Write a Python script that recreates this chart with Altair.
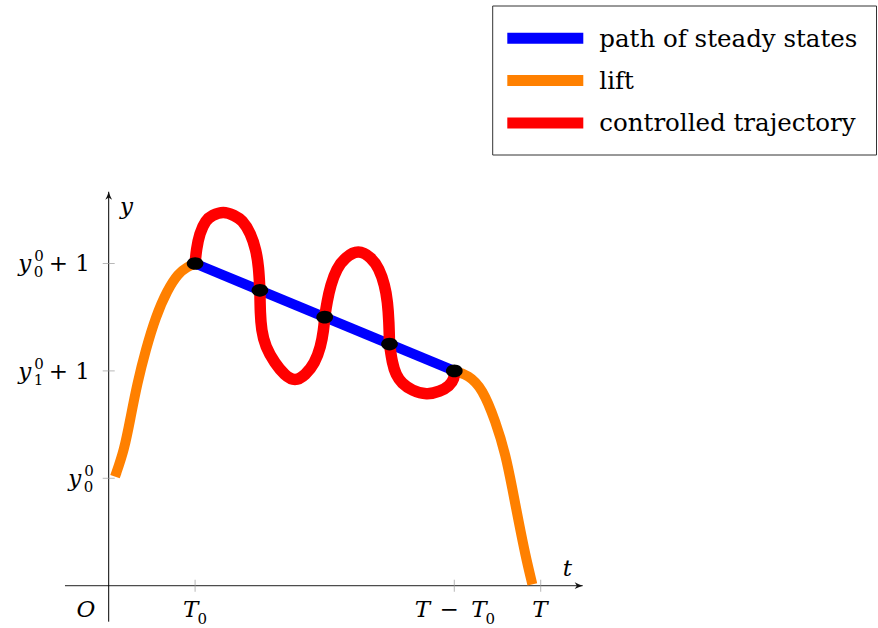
import altair as alt
import pandas as pd

# ---------------- values ----------------
# time and state ticks (T0 = 1, T - T0 = 4, T = 5)
x_ticks = [1, 4, 5]
y_ticks = [1, 2, 3]

# axis extents (arrow tips at the upper ends)
t_axis = [-0.506, 5.486]
y_axis = [-0.335, 3.668]

# path of steady states
steady_t = [1.0, 4.0]
steady_y = [3.0, 2.0]

# switching points on the steady-state path
switch_t = [1.0, 1.75, 2.5, 3.25, 4.0]
switch_y = [3.0, 2.75, 2.5, 2.25, 2.0]

# lift from y0^0 up to the first steady state
lift_in_t = [0.073, 0.181, 0.255, 0.331, 0.428, 0.544, 0.678, 0.806, 0.906, 1.0]
lift_in_y = [1.015, 1.264, 1.574, 1.885, 2.195, 2.505, 2.753, 2.909, 2.967, 3.0]

# lift from the last steady state down to zero at T
lift_out_t = [4.0, 4.162, 4.324, 4.479, 4.595, 4.671, 4.745, 4.822, 4.903]
lift_out_y = [2.0, 1.962, 1.838, 1.527, 1.217, 0.907, 0.596, 0.286, 0.013]

# controlled trajectory, one arc between each pair of switching points
arc1_t = [1.0, 1.014, 1.051, 1.123, 1.196, 1.326, 1.456, 1.546, 1.644, 1.705, 1.736, 1.75]
arc1_y = [3.0, 3.126, 3.281, 3.405, 3.447, 3.49, 3.447, 3.405, 3.281, 3.126, 2.970, 2.75]

arc2_t = [1.75, 1.754, 1.768, 1.812, 1.924, 2.035, 2.156, 2.277, 2.385, 2.454, 2.488, 2.5]
arc2_y = [2.75, 2.536, 2.381, 2.225, 2.071, 1.961, 1.90, 1.961, 2.071, 2.225, 2.381, 2.5]

arc3_t = [2.5, 2.527, 2.569, 2.639, 2.735, 2.889, 3.042, 3.128, 3.195, 3.228, 3.244, 3.25]
arc3_y = [2.5, 2.644, 2.800, 2.955, 3.055, 3.133, 3.055, 2.955, 2.800, 2.644, 2.455, 2.25]

arc4_t = [3.25, 3.282, 3.325, 3.391, 3.510, 3.681, 3.834, 3.944, 4.002, 4.0]
arc4_y = [2.25, 2.071, 1.962, 1.885, 1.817, 1.775, 1.808, 1.859, 1.929, 2.0]

legend_labels = ["path of steady states", "lift", "controlled trajectory"]

# ---------------- styling ----------------
FONT = "DejaVu Serif"
BLUE, ORANGE, RED = "#0000ff", "#ff8000", "#ff0000"
legend_colors = [BLUE, ORANGE, RED]

X = alt.Scale(domain=[-1.2581, 8.9039], nice=False, zero=False)
Y = alt.Scale(domain=[-0.3939, 5.4534], nice=False, zero=False)
xe = alt.X("t:Q", scale=X, axis=None)
ye = alt.Y("y:Q", scale=Y, axis=None)


def curve(ts, ys, seg):
    return pd.DataFrame({"t": ts, "y": ys, "i": range(len(ts)), "seg": seg})


lift_df = pd.concat([curve(lift_in_t, lift_in_y, "in"),
                     curve(lift_out_t, lift_out_y, "out")])
ctrl_df = pd.concat([curve(arc1_t, arc1_y, "a1"), curve(arc2_t, arc2_y, "a2"),
                     curve(arc3_t, arc3_y, "a3"), curve(arc4_t, arc4_y, "a4")])

lift = alt.Chart(lift_df).mark_line(
    color=ORANGE, strokeWidth=10, strokeCap="butt", interpolate="basis"
).encode(x=xe, y=ye, order="i:Q", detail="seg:N")

steady = alt.Chart(curve(steady_t, steady_y, "s")).mark_line(
    color=BLUE, strokeWidth=10, strokeCap="butt"
).encode(x=xe, y=ye, order="i:Q")

ctrl = alt.Chart(ctrl_df).mark_line(
    color=RED, strokeWidth=11.5, strokeCap="butt", interpolate="basis"
).encode(x=xe, y=ye, order="i:Q", detail="seg:N")

ELLIPSE = "M-1,0A1,0.76,0,1,1,1,0A1,0.76,0,1,1,-1,0Z"
dots = alt.Chart(pd.DataFrame({"t": switch_t, "y": switch_y})).mark_point(
    shape=ELLIPSE, size=279, filled=True, color="black", opacity=1, strokeWidth=0
).encode(x=xe, y=ye)

# axes
x_line = alt.Chart(pd.DataFrame({"t": [t_axis[0]], "t2": [t_axis[1]], "y": [0]})).mark_rule(
    color="#4d4d4d", strokeWidth=1.3
).encode(x=xe, x2="t2:Q", y=ye)
y_line = alt.Chart(pd.DataFrame({"t": [0], "y": [y_axis[0]], "y2": [y_axis[1]]})).mark_rule(
    color="black", strokeWidth=1
).encode(x=xe, y=ye, y2="y2:Q")

ARROW = "M0,0Q-1,-0.3,-2,-0.85L-1.45,0L-2,0.85Q-1,0.3,0,0Z"
x_arrow = alt.Chart(pd.DataFrame({"t": [t_axis[1]], "y": [0]})).mark_point(
    shape=ARROW, size=64, filled=True, color="#111", opacity=1, strokeWidth=0
).encode(x=xe, y=ye)
y_arrow = alt.Chart(pd.DataFrame({"t": [0], "y": [y_axis[1]]})).mark_point(
    shape=ARROW, size=64, filled=True, color="#111", opacity=1, strokeWidth=0, angle=270
).encode(x=xe, y=ye)

x_tick_marks = alt.Chart(pd.DataFrame({"t": x_ticks, "y": [0] * len(x_ticks)})).mark_tick(
    orient="vertical", size=12, thickness=1, color="#9a9a9a"
).encode(x=xe, y=ye)
y_tick_marks = alt.Chart(pd.DataFrame({"t": [0] * len(y_ticks), "y": y_ticks})).mark_tick(
    orient="horizontal", size=12, thickness=1, color="#9a9a9a"
).encode(x=xe, y=ye)


def label(tv, yv, text, dx, dy, size=23, italic=False, align="left"):
    df = pd.DataFrame({"t": [tv], "y": [yv], "s": [text]})
    return alt.Chart(df).mark_text(
        font=FONT, fontSize=size, fontStyle="italic" if italic else "normal",
        align=align, baseline="alphabetic", dx=dx, dy=dy, color="black"
    ).encode(x=xe, y=ye, text="s:N")


texts = []
# y tick labels: y_0^0, y_1^0 + 1, y_0^0 + 1
y_sub = ["0", "1", "0"]
for k, yv in enumerate(y_ticks):
    if k == 0:
        right = -27.5
    else:
        right = -77.5
        texts.append(label(0, yv, "+ 1", -18.7, 8, align="right"))
    texts.append(label(0, yv, "y", right, 8, italic=True, align="right"))
    texts.append(label(0, yv, "0", right + 3.0, -2, size=15))
    texts.append(label(0, yv, y_sub[k], right + 2.5, 14, size=15))

# t tick labels: T_0, T - T_0, T
texts.append(label(x_ticks[0], 0, "T", 3.3, 31, italic=True, align="right"))
texts.append(label(x_ticks[0], 0, "0", 2.5, 38.5, size=15))
texts.append(label(x_ticks[1], 0, "T", -24.3, 31, italic=True, align="right"))
texts.append(label(x_ticks[1], 0, "\u2212", -5.1, 31, align="center"))
texts.append(label(x_ticks[1], 0, "T", 32.4, 31, italic=True, align="right"))
texts.append(label(x_ticks[1], 0, "0", 31.2, 38.5, size=15))
texts.append(label(x_ticks[2], 0, "T", -0.7, 31, italic=True, align="center"))

# origin and axis names
texts.append(label(0, 0, "O", -22.7, 31, italic=True, align="center"))
texts.append(label(0, y_axis[1], "y", 11.3, 22.3, italic=True))
texts.append(label(t_axis[1], 0, "t", -20.0, -9.7, italic=True))

# legend box
one = pd.DataFrame({"a": [0]})
legend_layers = [
    alt.Chart(one).mark_rect(fill="white", fillOpacity=0, stroke="#333", strokeWidth=1).encode(
        x=alt.value(492.7), x2=alt.value(876.5), y=alt.value(6), y2=alt.value(155)
    )
]
for r, (name, col) in enumerate(zip(legend_labels, legend_colors)):
    row_y = 38.3 + 42.3 * r
    legend_layers.append(
        alt.Chart(one).mark_rule(color=col, strokeWidth=11, strokeCap="butt").encode(
            x=alt.value(507.3), x2=alt.value(583.3), y=alt.value(row_y)
        )
    )
    legend_layers.append(
        alt.Chart(pd.DataFrame({"s": [name]})).mark_text(
            font=FONT, fontSize=24.5, align="left", baseline="alphabetic", color="black"
        ).encode(x=alt.value(599.3), y=alt.value(row_y + 8.3), text="s:N")
    )

chart = alt.layer(
    x_line, y_line, x_tick_marks, y_tick_marks, x_arrow, y_arrow,
    lift, steady, ctrl, dots, *texts, *legend_layers
).properties(
    width=878, height=628, padding=0,
    autosize=alt.AutoSizeParams(type="none"),
).configure_view(strokeWidth=0)

chart.save("out.html", embed_options={"renderer": "svg", "actions": False})
